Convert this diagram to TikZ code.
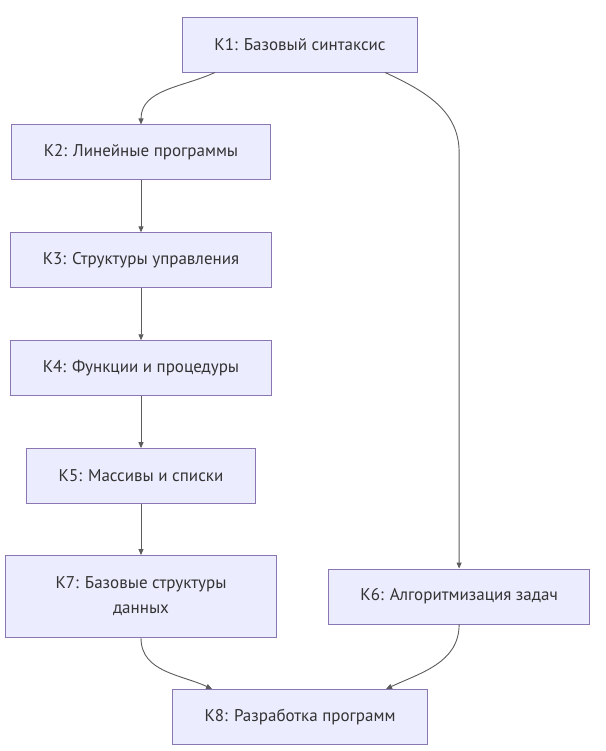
\documentclass[tikz,border=0pt]{standalone}
\usepackage{fontspec}
\setmainfont{PT Sans}
\usepackage{xcolor}
\usetikzlibrary{arrows.meta,positioning,calc}
\definecolor{boxfill}{HTML}{ECECFF}
\definecolor{boxline}{HTML}{9370DB}
\definecolor{edgecol}{HTML}{333333}
\tikzset{
  modbox/.style={draw=boxline!55!gray,fill=boxfill,line width=.9pt,
    minimum height=55pt,inner xsep=32pt,align=center,
    font=\fontsize{17}{25}\selectfont,text=edgecol},
  link/.style={-{Triangle[length=6pt,width=5pt]},draw=edgecol!80,line width=.9pt}
}

\begin{document}
\begin{tikzpicture}[node distance=52pt]
\useasboundingbox (0,0) rectangle (605pt,-751pt);
\node[modbox] (k1) at (300pt,-44.5pt) {К1: Базовый синтаксис};
\node[modbox,below=of k1,xshift=-159pt] (k2) {К2: Линейные программы};
\node[modbox,below=of k2] (k3) {К3: Структуры управления};
\node[modbox,below=of k3] (k4) {К4: Функции и процедуры};
\node[modbox,below=of k4] (k5) {К5: Массивы и списки};
\node[modbox,below=51pt of k5,minimum height=82pt,minimum width=271pt] (k7) {К7: Базовые структуры\\данных};
\node[modbox,right=51pt of k7] (k6) {К6: Алгоритмизация задач};
\coordinate (mid) at ($(k7.south)!.5!(k7.south -| k6.south)$);
\node[modbox,below=51pt of mid] (k8) {К8: Разработка программ};
% main column
\draw[link] ([xshift=-85pt]k1.south) to[out=-155,in=90] (k2.north);
\draw[link] (k2) -- (k3);
\draw[link] (k3) -- (k4);
\draw[link] (k4) -- (k5);
\draw[link] (k5) -- (k7);
% right branch
\draw[link] ([xshift=85pt]k1.south) to[out=-25,in=90] (k6.north |- k2.center) -- (k6.north);
% merge into k8
\draw[link] (k7.south) to[out=-90,in=155] ([xshift=-88pt]k8.north);
\draw[link] (k6.south) to[out=-90,in=25] ([xshift=86pt]k8.north);
\end{tikzpicture}
\end{document}
